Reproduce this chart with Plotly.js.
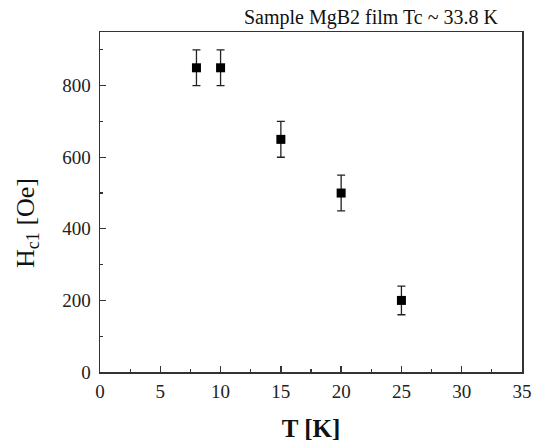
<!DOCTYPE html>
<html>
<head>
<meta charset="utf-8">
<script src="https://cdn.plot.ly/plotly-3.0.1.min.js"></script>
<style>html,body{margin:0;padding:0;background:#fff;}#chart{width:533px;height:445px;}</style>
</head>
<body>
<div id="chart"></div>
<script>
const temperatures = [8, 10, 15, 20, 25];
const hc1Values = [850, 850, 650, 500, 200];
const hc1Errors = [50, 50, 50, 50, 40];
const chartTitle = "Sample MgB2 film Tc ~ 33.8 K";
const xTitle = "<b>T [K]</b>";
const yTitle = "H<sub>c1</sub> [Oe]";

const serif = "Liberation Serif";

const trace = {
  x: temperatures,
  y: hc1Values,
  type: "scatter",
  mode: "markers",
  marker: {symbol: "square", size: 9, color: "#000"},
  error_y: {type: "data", array: hc1Errors, visible: true, color: "#222", thickness: 1.3, width: 4},
  showlegend: false
};

function makeAxis(extra) {
  const base = {
    showgrid: false,
    zeroline: false,
    showline: true,
    linecolor: "#333",
    linewidth: 1.5,
    mirror: true,
    ticks: "inside",
    ticklen: 6,
    tickwidth: 1.3,
    tickcolor: "#333",
    tickfont: {family: serif, size: 19, color: "#222"}
  };
  return Object.assign(base, extra);
}

const layout = {
  width: 533,
  height: 445,
  font: {family: serif, color: "#222"},
  margin: {l: 100, r: 11, t: 32, b: 73},
  paper_bgcolor: "#fff",
  plot_bgcolor: "#fff",
  title: {text: chartTitle, font: {family: serif, size: 20, color: "#111"}, xref: "paper", x: 0.642, xanchor: "center", yref: "container", y: 0.962, yanchor: "middle"},
  xaxis: makeAxis({
    range: [0, 35], tick0: 0, dtick: 5, ticklabelstandoff: 2,
    minor: {dtick: 2.5, ticks: "inside", ticklen: 3, tickwidth: 1.2, tickcolor: "#333"},
    title: {text: xTitle, font: {family: serif, size: 25, color: "#111"}, standoff: 18}
  }),
  yaxis: makeAxis({
    range: [0, 950], tick0: 0, dtick: 200, ticklabelstandoff: 4,
    minor: {dtick: 100, ticks: "inside", ticklen: 3, tickwidth: 1.2, tickcolor: "#333"}
  }),
  annotations: [{
    text: yTitle, textangle: -90, showarrow: false,
    xref: "paper", x: -0.173, xanchor: "center",
    yref: "paper", y: 0.438, yanchor: "middle",
    font: {family: serif, size: 26, color: "#111"}
  }]
};

Plotly.newPlot("chart", [trace], layout, {displayModeBar: false, staticPlot: true});
</script>
</body>
</html>
